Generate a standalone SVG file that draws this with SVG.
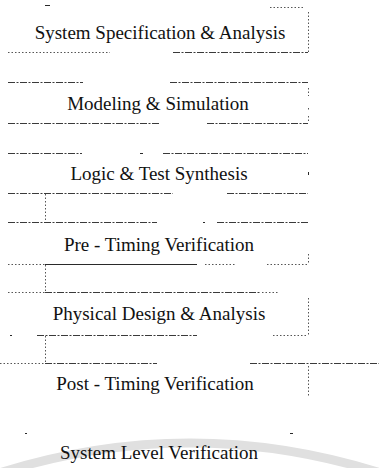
<svg xmlns="http://www.w3.org/2000/svg" width="379" height="468" viewBox="0 0 379 468">
<style>
.bg{fill:#ffffff}
.lbl{font-family:"Liberation Serif","Times New Roman",serif;font-size:19px;fill:#111;text-anchor:middle}
.ln{stroke:#3a3a3a;stroke-width:1;fill:none;stroke-dasharray:7 1.5 2 1.5}
.dt{stroke:#555;stroke-width:1;fill:none;stroke-dasharray:1.5 2}
.sd{stroke:#2a2a2a;stroke-width:1;fill:none}
.arc{stroke:#e0e0e0;stroke-width:9;fill:none}
</style>
<rect class="bg" x="0" y="0" width="379" height="468"/>
<path class="arc" d="M -10 476 Q 190 410 390 476"/>
<g id="node-system-spec">
<line class="sd" x1="45" y1="5.5" x2="50" y2="5.5"/>
<line class="dt" x1="270" y1="7.5" x2="305" y2="7.5"/>
<line class="dt" x1="308.5" y1="12" x2="308.5" y2="52"/>
<line class="dt" x1="8" y1="52.5" x2="110" y2="52.5"/>
<line class="ln" x1="173" y1="52.5" x2="308" y2="52.5"/>
<text class="lbl" x="160" y="39">System Specification &amp; Analysis</text>
</g>
<g id="node-modeling">
<line class="ln" x1="8" y1="82.5" x2="83" y2="82.5"/>
<line class="ln" x1="170" y1="82.5" x2="308" y2="82.5"/>
<line class="dt" x1="308.5" y1="88" x2="308.5" y2="96"/>
<line class="dt" x1="308.5" y1="108" x2="308.5" y2="111"/>
<line class="dt" x1="308.5" y1="116" x2="308.5" y2="123"/>
<line class="ln" x1="8" y1="123.5" x2="160" y2="123.5"/>
<line class="ln" x1="207" y1="123.5" x2="308" y2="123.5"/>
<text class="lbl" x="158" y="110">Modeling &amp; Simulation</text>
</g>
<g id="node-logic">
<line class="ln" x1="8" y1="153.5" x2="82" y2="153.5"/>
<line class="sd" x1="140" y1="153.5" x2="143" y2="153.5"/>
<line class="ln" x1="163" y1="153.5" x2="308" y2="153.5"/>
<line class="sd" x1="308.5" y1="172" x2="308.5" y2="175"/>
<line class="ln" x1="8" y1="193.5" x2="173" y2="193.5"/>
<line class="ln" x1="227" y1="193.5" x2="308" y2="193.5"/>
<text class="lbl" x="159" y="180">Logic &amp; Test Synthesis</text>
</g>
<g id="node-pre-timing">
<line class="ln" x1="8" y1="222.5" x2="157" y2="222.5"/>
<line class="sd" x1="203" y1="222.5" x2="205" y2="222.5"/>
<line class="ln" x1="217" y1="222.5" x2="308" y2="222.5"/>
<line class="dt" x1="308.5" y1="254" x2="308.5" y2="264"/>
<line class="dt" x1="8" y1="264.5" x2="45" y2="264.5"/>
<line class="sd" x1="45" y1="264.5" x2="197" y2="264.5"/>
<line class="dt" x1="205" y1="264.5" x2="235" y2="264.5"/>
<line class="dt" x1="267" y1="264.5" x2="308" y2="264.5"/>
<text class="lbl" x="159" y="251">Pre - Timing Verification</text>
</g>
<g id="node-physical">
<line class="dt" x1="8" y1="292.5" x2="45" y2="292.5"/>
<line class="ln" x1="45" y1="292.5" x2="260" y2="292.5"/>
<line class="dt" x1="262" y1="292.5" x2="278" y2="292.5"/>
<line class="dt" x1="308.5" y1="298" x2="308.5" y2="335"/>
<line class="sd" x1="10" y1="335.5" x2="12" y2="335.5"/>
<line class="ln" x1="37" y1="335.5" x2="197" y2="335.5"/>
<line class="dt" x1="273" y1="335.5" x2="308" y2="335.5"/>
<text class="lbl" x="159" y="320">Physical Design &amp; Analysis</text>
</g>
<g id="node-post-timing">
<line class="dt" x1="0" y1="363.5" x2="45" y2="363.5"/>
<line class="ln" x1="45" y1="363.5" x2="157" y2="363.5"/>
<line class="ln" x1="250" y1="363.5" x2="379" y2="363.5"/>
<line class="dt" x1="308.5" y1="366" x2="308.5" y2="396"/>
<text class="lbl" x="155" y="390">Post - Timing Verification</text>
</g>
<g id="node-system-level">
<line class="sd" x1="25" y1="433.5" x2="27" y2="433.5"/>
<line class="sd" x1="290" y1="433.5" x2="293" y2="433.5"/>
<text class="lbl" x="159" y="459">System Level Verification</text>
</g>
<g id="connectors">
<line class="dt" x1="45.5" y1="194" x2="45.5" y2="222"/>
<line class="dt" x1="45.5" y1="265" x2="45.5" y2="292"/>
<line class="dt" x1="45.5" y1="336" x2="45.5" y2="363"/>
</g>
</svg>
